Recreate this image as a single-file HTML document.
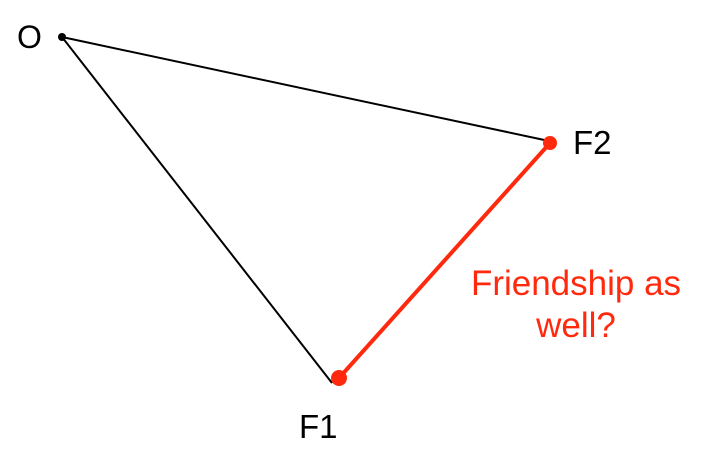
<!DOCTYPE html>
<html><head><style>body{margin:0;background:#fff}</style></head><body>
<svg width="710" height="466" xmlns="http://www.w3.org/2000/svg" font-family="Liberation Sans, sans-serif">
<line x1="62" y1="37" x2="549" y2="141" stroke="#000" stroke-width="2"/>
<line x1="62" y1="37" x2="332" y2="383" stroke="#000" stroke-width="2"/>
<line x1="339" y1="378" x2="550" y2="143" stroke="#ff2a0e" stroke-width="4"/>
<circle cx="62" cy="37" r="4" fill="#000"/>
<circle cx="339" cy="378" r="8" fill="#ff2a0e"/>
<circle cx="550" cy="143" r="7" fill="#ff2a0e"/>
<text x="17" y="48" font-size="32">O</text>
<text x="573" y="154" font-size="33">F2</text>
<text x="299" y="438" font-size="33">F1</text>
<text x="576" y="295" font-size="35" fill="#ff2a0e" text-anchor="middle">Friendship as</text>
<text x="576" y="337" font-size="35" fill="#ff2a0e" text-anchor="middle">well?</text>
</svg>
</body></html>
